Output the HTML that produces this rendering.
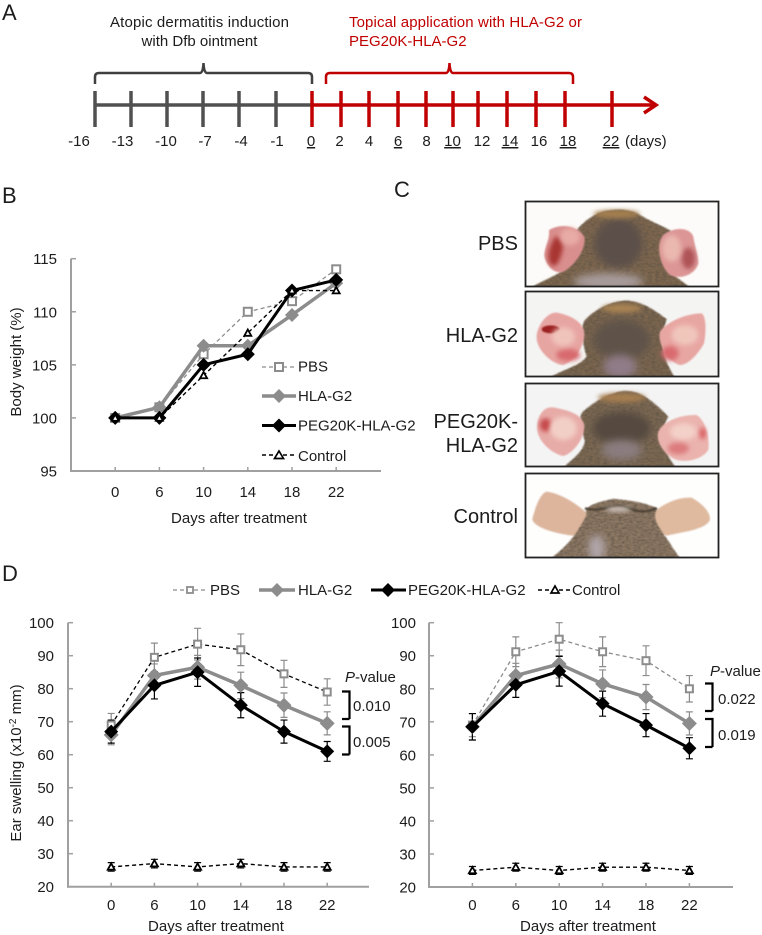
<!DOCTYPE html>
<html lang="en">
<head>
<meta charset="utf-8">
<title>Ear swelling and body weight figure</title>
<style>
html,body{margin:0;padding:0;background:#fff;}
svg{display:block;}
text{font-family:"Liberation Sans",sans-serif;fill:#1c1c1c;font-size:15px;}
.letter{font-size:22px;}
.clabel{font-size:20px;text-anchor:end;}
.tl{text-anchor:middle;}
.u{text-decoration:underline;}
.red{fill:#c00000;}
</style>
</head>
<body>
<svg id="figure" xmlns="http://www.w3.org/2000/svg" width="762" height="935" viewBox="0 0 762 935">
<defs>
<filter id="b3" x="-50%" y="-50%" width="200%" height="200%"><feGaussianBlur stdDeviation="12"/></filter>
<filter id="b2" x="-50%" y="-50%" width="200%" height="200%"><feGaussianBlur stdDeviation="7"/></filter>
<filter id="b1" x="-30%" y="-30%" width="160%" height="160%"><feGaussianBlur stdDeviation="2.500"/></filter>
<filter id="fur" x="-10%" y="-10%" width="120%" height="120%">
<feGaussianBlur in="SourceGraphic" stdDeviation="2.500" result="s"/>
<feTurbulence type="fractalNoise" baseFrequency="0.09 0.16" numOctaves="2" seed="4" result="n"/>
<feColorMatrix in="n" type="matrix" values="0 0 0 0 0.1 0 0 0 0 0.08 0 0 0 0 0.06 0 0 0 1.400 -0.450" result="d"/>
<feComposite in="d" in2="s" operator="in" result="dd"/>
<feMerge><feMergeNode in="s"/><feMergeNode in="dd"/></feMerge>
</filter>
<clipPath id="c1"><rect x="525" y="201" width="194" height="86"/></clipPath>
<clipPath id="c2"><rect x="525" y="291" width="194" height="86"/></clipPath>
<clipPath id="c3"><rect x="525" y="383" width="194" height="84"/></clipPath>
<clipPath id="c4"><rect x="525" y="473" width="194" height="85"/></clipPath>
</defs>

<!-- Panel letters -->
<text class="letter" x="2" y="20">A</text>
<text class="letter" x="2" y="203">B</text>
<text class="letter" x="394" y="197">C</text>
<text class="letter" x="2" y="581">D</text>

<!-- Panel A timeline -->
<g id="timeline">
<text class="tl" x="199.500" y="27" textLength="179">Atopic dermatitis induction</text>
<text class="tl" x="199.500" y="46">with Dfb ointment</text>
<text class="red" x="349" y="27" textLength="233">Topical application with HLA-G2 or</text>
<text class="red" x="349" y="46">PEG20K-HLA-G2</text>
<path d="M95 84V77Q95 73 99 73H200Q203 73 203.500 63Q204 73 207 73H308Q312 73 312 77V84" fill="none" stroke="#404040" stroke-width="2.500"/>
<path d="M326 84V77Q326 73 330 73H446Q449 73 449.500 63Q450 73 453 73H569Q573 73 573 77V84" fill="none" stroke="#c00000" stroke-width="2.500"/>
<line x1="95" y1="105" x2="312" y2="105" stroke="#505050" stroke-width="3.500"/>
<line x1="312" y1="105" x2="654" y2="105" stroke="#c00000" stroke-width="3.500"/>
<path d="M644 97L656 105L644 113" fill="none" stroke="#c00000" stroke-width="3.500"/>
<g stroke="#505050" stroke-width="3.500">
<path d="M95 91V127M131 91V127M167 91V127M203 91V127M239 91V127M276 91V127"/>
</g>
<g stroke="#c00000" stroke-width="3.500">
<path d="M312 91V127M341 91V127M369 91V127M398 91V127M426 91V127M453 91V127M478 91V127M507 91V127M536 91V127M565 91V127M612 91V127"/>
</g>
<g>
<text class="tl" x="79" y="146">-16</text>
<text class="tl" x="122.500" y="146">-13</text>
<text class="tl" x="166" y="146">-10</text>
<text class="tl" x="205" y="146">-7</text>
<text class="tl" x="241" y="146">-4</text>
<text class="tl" x="277" y="146">-1</text>
<text class="tl u" x="311" y="146">0</text>
<text class="tl" x="339.500" y="146">2</text>
<text class="tl" x="369" y="146">4</text>
<text class="tl u" x="398" y="146">6</text>
<text class="tl" x="426.500" y="146">8</text>
<text class="tl u" x="452.500" y="146">10</text>
<text class="tl" x="482" y="146">12</text>
<text class="tl u" x="510" y="146">14</text>
<text class="tl" x="539" y="146">16</text>
<text class="tl u" x="568" y="146">18</text>
<text class="tl u" x="611" y="146">22</text>
<text x="625" y="146">(days)</text>
</g>
</g>

<!-- Panel B -->
<g id="weight-chart"></g>
<g>
<g>
<line x1="262" x2="296" y1="367" y2="367" stroke="#8c8c8c" stroke-width="1.300" stroke-dasharray="4 3"/>
<rect x="275" y="363" width="8" height="8" fill="#fff" stroke="#8c8c8c" stroke-width="2"/>
<text x="298" y="371.500">PBS</text>
</g>
<g>
<line x1="262" x2="296" y1="396" y2="396" stroke="#8c8c8c" stroke-width="3.500"/>
<polygon points="279,389 286,396 279,403 272,396" fill="#8c8c8c"/>
<text x="298" y="401">HLA-G2</text>
</g>
<g>
<line x1="262" x2="296" y1="425.500" y2="425.500" stroke="#000" stroke-width="3"/>
<polygon points="279,418.500 286,425.500 279,432.500 272,425.500" fill="#000"/>
<text x="298" y="430.500">PEG20K-HLA-G2</text>
</g>
<g>
<line x1="262" x2="296" y1="455" y2="455" stroke="#000" stroke-width="1.500" stroke-dasharray="4 3"/>
<polygon points="279,451 283.500,458.500 274.500,458.500" fill="#fff" stroke="#000" stroke-width="1.700"/>
<text x="298" y="461">Control</text>
</g>
</g>

<!-- Panel C photos -->
<g>
<text class="clabel" x="518" y="250">PBS</text>
<text class="clabel" x="518" y="342">HLA-G2</text>
<text class="clabel" x="518" y="428">PEG20K-</text>
<text class="clabel" x="518" y="452">HLA-G2</text>
<text class="clabel" x="518" y="523">Control</text>

<g clip-path="url(#c1)">
<rect x="525" y="201" width="194" height="86" fill="#fcfbf9"/>
<g transform="translate(400 180) scale(.33333)">
<path filter="url(#fur)" fill="#7f6850" d="M385 330C420 300 480 290 510 250C500 190 520 140 590 102C620 88 680 80 725 108C760 128 790 140 812 152C780 200 790 260 830 292L880 330Z"/>
<ellipse filter="url(#b3)" cx="655" cy="190" rx="72" ry="75" fill="#5c5049"/>
<ellipse filter="url(#b3)" cx="625" cy="305" rx="105" ry="25" fill="#a89c9c"/>
<ellipse filter="url(#b2)" cx="650" cy="102" rx="70" ry="12" fill="#a68050"/>
<path filter="url(#b1)" fill="#d98f8e" d="M447 150C480 130 530 135 553 170C560 210 520 260 490 275C460 285 435 250 433 225C435 195 450 180 447 150Z"/>
<path filter="url(#b2)" fill="#a83432" d="M465 170C490 170 495 200 480 235C470 265 450 265 445 235C445 205 455 190 465 170Z"/>
<ellipse filter="url(#b2)" cx="510" cy="170" rx="30" ry="26" fill="#e8aba6"/>
<path filter="url(#b1)" fill="#dc9695" d="M790 165C820 140 870 140 880 170C882 190 895 225 895 250C885 285 840 300 810 285C780 260 765 195 790 165Z"/>
<ellipse filter="url(#b2)" cx="865" cy="235" rx="20" ry="32" fill="#ae5256"/>
<ellipse filter="url(#b2)" cx="815" cy="205" rx="28" ry="40" fill="#eab8ae"/>
</g>
</g>
<rect x="525.500" y="201.500" width="193" height="85" fill="none" stroke="#222" stroke-width="1.800"/>

<g clip-path="url(#c2)">
<rect x="525" y="291" width="194" height="86" fill="#f4f4f3"/>
<g transform="translate(400 180) scale(.33333)">
<path filter="url(#fur)" fill="#7b6650" d="M440 600C480 570 540 560 560 530C545 480 540 430 560 415C590 385 640 362 680 362C730 365 770 395 800 418C780 470 780 530 830 600Z"/>
<ellipse filter="url(#b3)" cx="665" cy="480" rx="85" ry="60" fill="#5e5249"/>
<ellipse filter="url(#b3)" cx="660" cy="560" rx="50" ry="35" fill="#8f7c88"/>
<ellipse filter="url(#b2)" cx="665" cy="385" rx="60" ry="13" fill="#aa8452"/>
<path filter="url(#b1)" fill="#e7a5a2" d="M410 465C415 430 445 395 470 398C510 405 550 425 553 460C555 500 520 545 490 555C460 555 405 510 410 465Z"/>
<ellipse filter="url(#b1)" cx="452" cy="448" rx="27" ry="12" fill="#9c2020"/>
<ellipse filter="url(#b2)" cx="505" cy="525" rx="36" ry="18" fill="#d7696d"/>
<ellipse filter="url(#b2)" cx="490" cy="470" rx="35" ry="28" fill="#f0c4ba"/>
<path filter="url(#b1)" fill="#e8a6a2" d="M780 455C800 425 860 400 905 400C920 410 918 460 912 490C890 530 860 555 840 555C810 550 770 490 780 455Z"/>
<ellipse filter="url(#b2)" cx="855" cy="465" rx="40" ry="30" fill="#f0c6bb"/>
<ellipse filter="url(#b2)" cx="810" cy="520" rx="26" ry="22" fill="#d96b6f"/>
</g>
</g>
<rect x="525.500" y="291.500" width="193" height="85" fill="none" stroke="#222" stroke-width="1.800"/>

<g clip-path="url(#c3)">
<rect x="525" y="383" width="194" height="84" fill="#f4f4f4"/>
<g transform="translate(400 375) scale(.33333)">
<path filter="url(#fur)" fill="#7d6952" d="M485 285C510 255 545 240 555 200C545 160 530 120 555 105C590 75 640 48 680 48C730 50 770 90 805 125C775 170 790 240 835 285Z"/>
<ellipse filter="url(#b3)" cx="665" cy="160" rx="88" ry="50" fill="#544840"/>
<ellipse filter="url(#b3)" cx="665" cy="225" rx="60" ry="30" fill="#8a7d7f"/>
<ellipse filter="url(#b2)" cx="665" cy="68" rx="72" ry="14" fill="#a67e50"/>
<path filter="url(#b1)" fill="#e8aca8" d="M412 150C415 120 430 95 460 97C500 105 545 115 553 150C555 190 520 235 490 243C450 235 405 190 412 150Z"/>
<ellipse filter="url(#b2)" cx="437" cy="150" rx="18" ry="20" fill="#c64a4b"/>
<ellipse filter="url(#b2)" cx="490" cy="160" rx="40" ry="35" fill="#f2cfc6"/>
<path filter="url(#b1)" fill="#ebb3ae" d="M775 170C790 135 850 118 890 120C915 135 930 185 925 225C905 255 860 262 830 255C800 245 765 205 775 170Z"/>
<ellipse filter="url(#b2)" cx="850" cy="170" rx="40" ry="25" fill="#f3d0c8"/>
<ellipse filter="url(#b2)" cx="835" cy="220" rx="32" ry="18" fill="#dc7b7e"/>
<ellipse filter="url(#b2)" cx="908" cy="175" rx="9" ry="18" fill="#d85a5e"/>
</g>
</g>
<rect x="525.500" y="383.500" width="193" height="83" fill="none" stroke="#222" stroke-width="1.800"/>

<g clip-path="url(#c4)">
<rect x="525" y="473" width="194" height="85" fill="#fefefd"/>
<g transform="translate(400 375) scale(.33333)">
<path filter="url(#b1)" fill="#dcb59c" d="M397 432C405 400 420 355 440 350C480 355 530 385 567 420C550 450 535 480 520 482C480 478 400 460 397 432Z"/>
<path filter="url(#b1)" fill="#dfba9f" d="M748 425C780 390 830 365 875 368C905 385 932 410 930 435C915 465 850 470 800 482C780 475 760 450 748 425Z"/>
<path filter="url(#fur)" fill="#8d7863" d="M440 560C480 530 520 500 560 420C552 400 570 385 640 372C690 375 740 385 772 400C755 425 770 450 800 490C820 520 830 540 850 560Z"/>
<path fill="none" stroke="#4e4236" stroke-width="7" filter="url(#b1)" d="M555 400C600 412 625 392 655 392C690 392 710 425 770 400"/>
<ellipse filter="url(#b2)" cx="655" cy="403" rx="38" ry="7" fill="#d8cfc8"/>
<ellipse filter="url(#b3)" cx="590" cy="520" rx="25" ry="40" fill="#b0a5a8"/>
</g>
</g>
<rect x="525.500" y="473.500" width="193" height="84" fill="none" stroke="#222" stroke-width="1.800"/>
</g>

<!-- Panel D shared legend -->
<g>
<g>
<line x1="173" x2="207" y1="590" y2="590" stroke="#8c8c8c" stroke-width="1.300" stroke-dasharray="4 3"/>
<rect x="187" y="587" width="6" height="6" fill="#fff" stroke="#8c8c8c" stroke-width="1.800"/>
<text x="210" y="595">PBS</text>
</g>
<g>
<line x1="259" x2="295" y1="590" y2="590" stroke="#8c8c8c" stroke-width="3.500"/>
<polygon points="277,583 284,590 277,597 270,590" fill="#8c8c8c"/>
<text x="298" y="595">HLA-G2</text>
</g>
<g>
<line x1="371" x2="406" y1="590" y2="590" stroke="#000" stroke-width="3"/>
<polygon points="388,583 395,590 388,597 381,590" fill="#000"/>
<text x="408" y="595">PEG20K-HLA-G2</text>
</g>
<g>
<line x1="538" x2="572" y1="590" y2="590" stroke="#000" stroke-width="1.500" stroke-dasharray="4 3"/>
<polygon points="555,586 559,593 551,593" fill="#fff" stroke="#000" stroke-width="1.700"/>
<text x="572" y="595">Control</text>
</g>
</g>

<g id="swelling-left"></g>
<g id="swelling-right"></g>

<text transform="translate(21 763) rotate(-90)" text-anchor="middle">Ear swelling (x10<tspan dy="-5" style="font-size:10px">-2</tspan><tspan dy="5"> mm)</tspan></text>

<!-- P-value annotations -->
<g>
<text x="345" y="682"><tspan font-style="italic">P</tspan>-value</text>
<path d="M342 691.500H349.500V719M342 719H349.500" fill="none" stroke="#000" stroke-width="2.200"/>
<path d="M342 726.500H349.500V754.500M342 754.500H349.500" fill="none" stroke="#000" stroke-width="2.200"/>
<text x="353" y="711">0.010</text>
<text x="353" y="747">0.005</text>
</g>
<g>
<text x="710" y="676"><tspan font-style="italic">P</tspan>-value</text>
<path d="M705 683.500H712.500V711M705 711H712.500" fill="none" stroke="#000" stroke-width="2.200"/>
<path d="M705 719H712.500V747M705 747H712.500" fill="none" stroke="#000" stroke-width="2.200"/>
<text x="718" y="704">0.022</text>
<text x="718" y="740">0.019</text>
</g>
</svg>

<script>
// ---- chart data ----
const days = ['0', '6', '10', '14', '18', '22'];
const weightTicks = [95, 100, 105, 110, 115];
const swellingTicks = [20, 30, 40, 50, 60, 70, 80, 90, 100];

const weightPBS = [100, 101, 106, 110, 111, 114];
const weightHLA = [100, 101, 106.8, 106.8, 109.7, 112.7];
const weightPEG = [100, 100, 105, 106, 112, 113];
const weightControl = [100, 100, 104, 108, 112, 112];

const leftPBS = [69, 89.5, 93.5, 91.8, 84.5, 79];
const leftHLA = [66, 84, 86.5, 81, 75, 69.5];
const leftPEG = [67, 81, 85, 75, 67, 61];
const leftControl = [26, 27, 26, 27, 26, 26];
const leftPBSErr = [3.5, 4.3, 4.8, 4.8, 4.1, 4];
const leftHLAErr = [3, 3.5, 3.6, 4, 3.7, 3.5];
const leftPEGErr = [3.5, 4.1, 4.3, 3.8, 3.5, 3];
const leftControlErr = [1.3, 1.3, 1.3, 1.3, 1.3, 1.3];

const rightPBS = [69, 91.2, 95, 91.2, 88.5, 80];
const rightHLA = [68.5, 84, 87.5, 81.5, 77.5, 69.5];
const rightPEG = [68.5, 81.2, 85.3, 75.5, 69, 62];
const rightControl = [25, 26, 25, 26, 26, 25];
const rightPBSErr = [3.5, 4.5, 5, 4.5, 4.5, 4];
const rightHLAErr = [4, 3.7, 4.2, 4.2, 3.8, 3.5];
const rightPEGErr = [4, 3.8, 4.5, 3.8, 3.5, 3.2];
const rightControlErr = [1.2, 1.2, 1.2, 1.2, 1.2, 1.2];

// ---- drawing ----
const NS = 'http://www.w3.org/2000/svg';
const GREY = '#8c8c8c';
const AXIS = '#a0a0a0';

function mk(tag, attrs, parent) {
  const el = document.createElementNS(NS, tag);
  for (const k in attrs) el.setAttribute(k, attrs[k]);
  parent.appendChild(el);
  return el;
}

function drawAxes(root, p, ticks) {
  const yAxis = mk('line', {x1: p.left, x2: p.left, y1: p.yScale(ticks[ticks.length - 1]), y2: p.bottom + 1, stroke: AXIS, 'stroke-width': 2}, root);
  
  
  const xAxis = mk('line', {x1: p.left - 1, x2: p.right, y1: p.bottom, y2: p.bottom, stroke: AXIS, 'stroke-width': 2}, root);
  
  
  ticks.forEach(function (t) {
    const y = p.yScale(t);
    const tick = mk('line', {x1: p.left, x2: p.left + 5, y1: y, y2: y, stroke: AXIS, 'stroke-width': 1.5}, root);
    
    
    const label = mk('text', {x: p.labelRight, y: y + 5.5, 'text-anchor': 'end'}, root);
    label.textContent = t;
    
    
  });
  days.forEach(function (d, i) {
    const x = p.xScale(i);
    const tick = mk('line', {x1: x, x2: x, y1: p.bottom - 4, y2: p.bottom, stroke: AXIS, 'stroke-width': 1.5}, root);
    
    
    const label = mk('text', {x: x, y: p.xLabelY, 'text-anchor': 'middle'}, root);
    label.textContent = d;
    
    
  });
  const title = mk('text', {x: p.titleX, y: p.titleY, 'text-anchor': 'middle'}, root);
  title.textContent = 'Days after treatment';
  
  
}

function drawErrors(root, p, values, errs, color, name) {
  values.forEach(function (v, i) {
    const x = p.xScale(i);
    const top = p.yScale(v + errs[i]);
    const bot = p.yScale(v - errs[i]);
    const bar = mk('path', {d: 'M' + x + ' ' + top + 'V' + bot + 'M' + (x - 3.5) + ' ' + top + 'H' + (x + 3.5) + 'M' + (x - 3.5) + ' ' + bot + 'H' + (x + 3.5), fill: 'none', stroke: color, 'stroke-width': 1.2}, root);
    
    
  });
}

function drawSeries(root, p, values, s) {
  const pts = values.map(function (v, i) { return p.xScale(i) + ',' + p.yScale(v); }).join(' ');
  const attrs = {points: pts, fill: 'none', stroke: s.line, 'stroke-width': s.width, 'stroke-linejoin': 'round'};
  if (s.dash) attrs['stroke-dasharray'] = s.dash;
  const line = mk('polyline', attrs, root);
  
  
  values.forEach(function (v, i) {
    const x = p.xScale(i);
    const y = p.yScale(v);
    let m;
    if (s.marker === 'square') {
      m = mk('rect', {x: x - s.size, y: y - s.size, width: 2 * s.size, height: 2 * s.size, fill: '#fff', stroke: s.color, 'stroke-width': 2}, root);
    } else if (s.marker === 'diamond') {
      m = mk('polygon', {points: x + ',' + (y - s.size) + ' ' + (x + s.size) + ',' + y + ' ' + x + ',' + (y + s.size) + ' ' + (x - s.size) + ',' + y, fill: s.color}, root);
    } else {
      m = mk('polygon', {points: x + ',' + (y - s.size) + ' ' + (x + s.size) + ',' + (y + s.size * 0.8) + ' ' + (x - s.size) + ',' + (y + s.size * 0.8), fill: '#fff', stroke: s.color, 'stroke-width': 1.8}, root);
    }
    
    
  });
}

function makePlot(left, right, step, yTopPx, yBotPx, yMin, yMax, labelRight, xLabelY, titleX, titleY) {
  return {
    left: left, right: right, bottom: yBotPx,
    labelRight: labelRight, xLabelY: xLabelY, titleX: titleX, titleY: titleY,
    xScale: function (i) { return left + step * (i + 1); },
    yScale: function (v) { return yBotPx + (v - yMin) / (yMax - yMin) * (yTopPx - yBotPx); }
  };
}

// Panel B
(function () {
  const root = document.getElementById('weight-chart');
  const p = makePlot(71, 381, 44.2, 258.7, 471, 95, 115, 57, 497, 239, 523);
  drawAxes(root, p, weightTicks);
  drawSeries(root, p, weightPBS, {name: 'pbs', line: GREY, color: GREY, width: 1.3, dash: '4 3', marker: 'square', size: 4});
  drawSeries(root, p, weightHLA, {name: 'hla-g2', line: GREY, color: GREY, width: 3.5, marker: 'diamond', size: 7});
  drawSeries(root, p, weightPEG, {name: 'peg20k-hla-g2', line: '#000', color: '#000', width: 3, marker: 'diamond', size: 7});
  drawSeries(root, p, weightControl, {name: 'control', line: '#000', color: '#000', width: 1.4, dash: '4 3', marker: 'triangle', size: 3.5});
  const yt = mk('text', {transform: 'translate(21 362) rotate(-90)', 'text-anchor': 'middle'}, root);
  yt.textContent = 'Body weight (%)';
  
  
})();

// Panel D
function drawSwelling(rootId, p, pbs, hla, peg, ctl, pbsE, hlaE, pegE, ctlE, pbsLine) {
  const root = document.getElementById(rootId);
  drawAxes(root, p, swellingTicks);
  drawErrors(root, p, pbs, pbsE, GREY, 'pbs');
  drawErrors(root, p, hla, hlaE, GREY, 'hla-g2');
  drawErrors(root, p, peg, pegE, '#000', 'peg20k-hla-g2');
  drawErrors(root, p, ctl, ctlE, '#000', 'control');
  drawSeries(root, p, pbs, {name: 'pbs', line: pbsLine, color: GREY, width: 1.3, dash: '4 3', marker: 'square', size: 3.5});
  drawSeries(root, p, hla, {name: 'hla-g2', line: GREY, color: GREY, width: 3.5, marker: 'diamond', size: 7.5});
  drawSeries(root, p, peg, {name: 'peg20k-hla-g2', line: '#000', color: '#000', width: 3, marker: 'diamond', size: 7});
  drawSeries(root, p, ctl, {name: 'control', line: '#000', color: '#000', width: 1.4, dash: '4 3', marker: 'triangle', size: 3.5});
}
drawSwelling('swelling-left', makePlot(68, 369, 43.2, 622.7, 886.7, 20, 100, 54, 910, 216, 931),
  leftPBS, leftHLA, leftPEG, leftControl, leftPBSErr, leftHLAErr, leftPEGErr, leftControlErr, '#000');
drawSwelling('swelling-right', makePlot(429, 733, 43.4, 622.7, 887, 20, 100, 416, 910, 588, 931),
  rightPBS, rightHLA, rightPEG, rightControl, rightPBSErr, rightHLAErr, rightPEGErr, rightControlErr, GREY);
</script>
</body>
</html>
